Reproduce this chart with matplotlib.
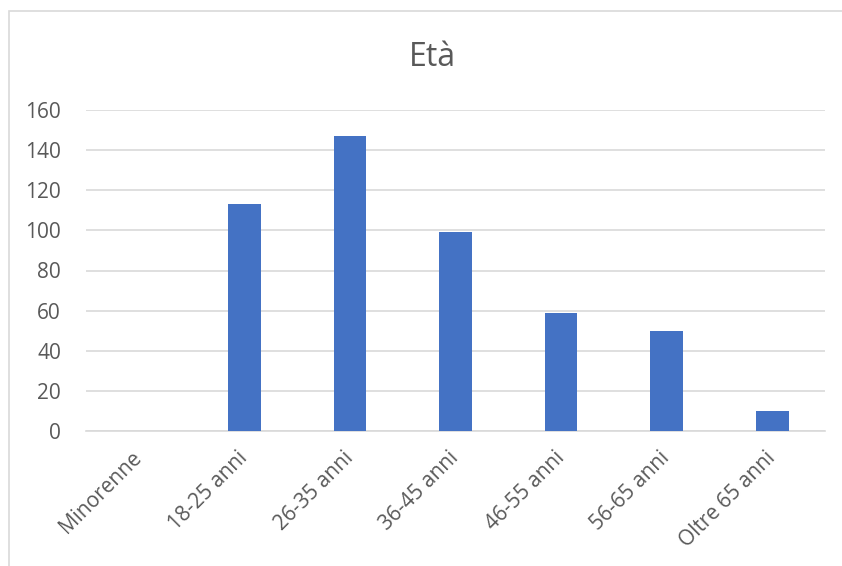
import matplotlib

matplotlib.use("Agg")
import matplotlib.pyplot as plt  # noqa: E402
from matplotlib.patches import Rectangle  # noqa: E402

categories = ["Minorenne", "18-25 anni", "26-35 anni", "36-45 anni",
              "46-55 anni", "56-65 anni", "Oltre 65 anni"]
counts = [0, 113, 147, 99, 59, 50, 10]
yticks = [0, 20, 40, 60, 80, 100, 120, 140, 160]

TEXT = "#595959"
GRID = "#D9D9D9"
BAR = "#4472C4"

plt.rcParams["font.family"] = ["Open Sans", "DejaVu Sans"]

fig = plt.figure(figsize=(8.42, 5.66), dpi=100)
W, H = 842, 566

# chart border (extends past right/bottom edges as in the screenshot)
fig.patches.append(Rectangle((9 / W, -0.1), 1.2, 1 - 11 / H + 0.1,
                             transform=fig.transFigure, fill=False,
                             edgecolor=GRID, linewidth=1.2))

ax = fig.add_axes([86 / W, 1 - 431 / H, 739 / W, 321 / H])
x = range(len(categories))
ax.bar(x, counts, width=0.31, color=BAR, zorder=3)

ax.set_xlim(-0.5, len(categories) - 0.5)
ax.set_ylim(0, 160)
ax.set_yticks(yticks)
ax.yaxis.grid(True, color=GRID, linewidth=1.2, zorder=0)
ax.set_axisbelow(True)
for s in ["top", "right", "left"]:
    ax.spines[s].set_visible(False)
ax.spines["bottom"].set_color(GRID)
ax.spines["bottom"].set_linewidth(1.2)
ax.tick_params(axis="both", length=0, colors=TEXT, labelsize=15)
ax.tick_params(axis="y", pad=18)
ax.set_xticks(list(x))
ax.set_xticklabels(categories, rotation=45, ha="right", va="center",
                   rotation_mode="anchor", color=TEXT, fontsize=15)
ax.tick_params(axis="x", pad=17)

fig.text(432 / W, 1 - 57 / H, "Età", ha="center", va="center",
         fontsize=23, color=TEXT)

fig.savefig("out.png", dpi=100)
